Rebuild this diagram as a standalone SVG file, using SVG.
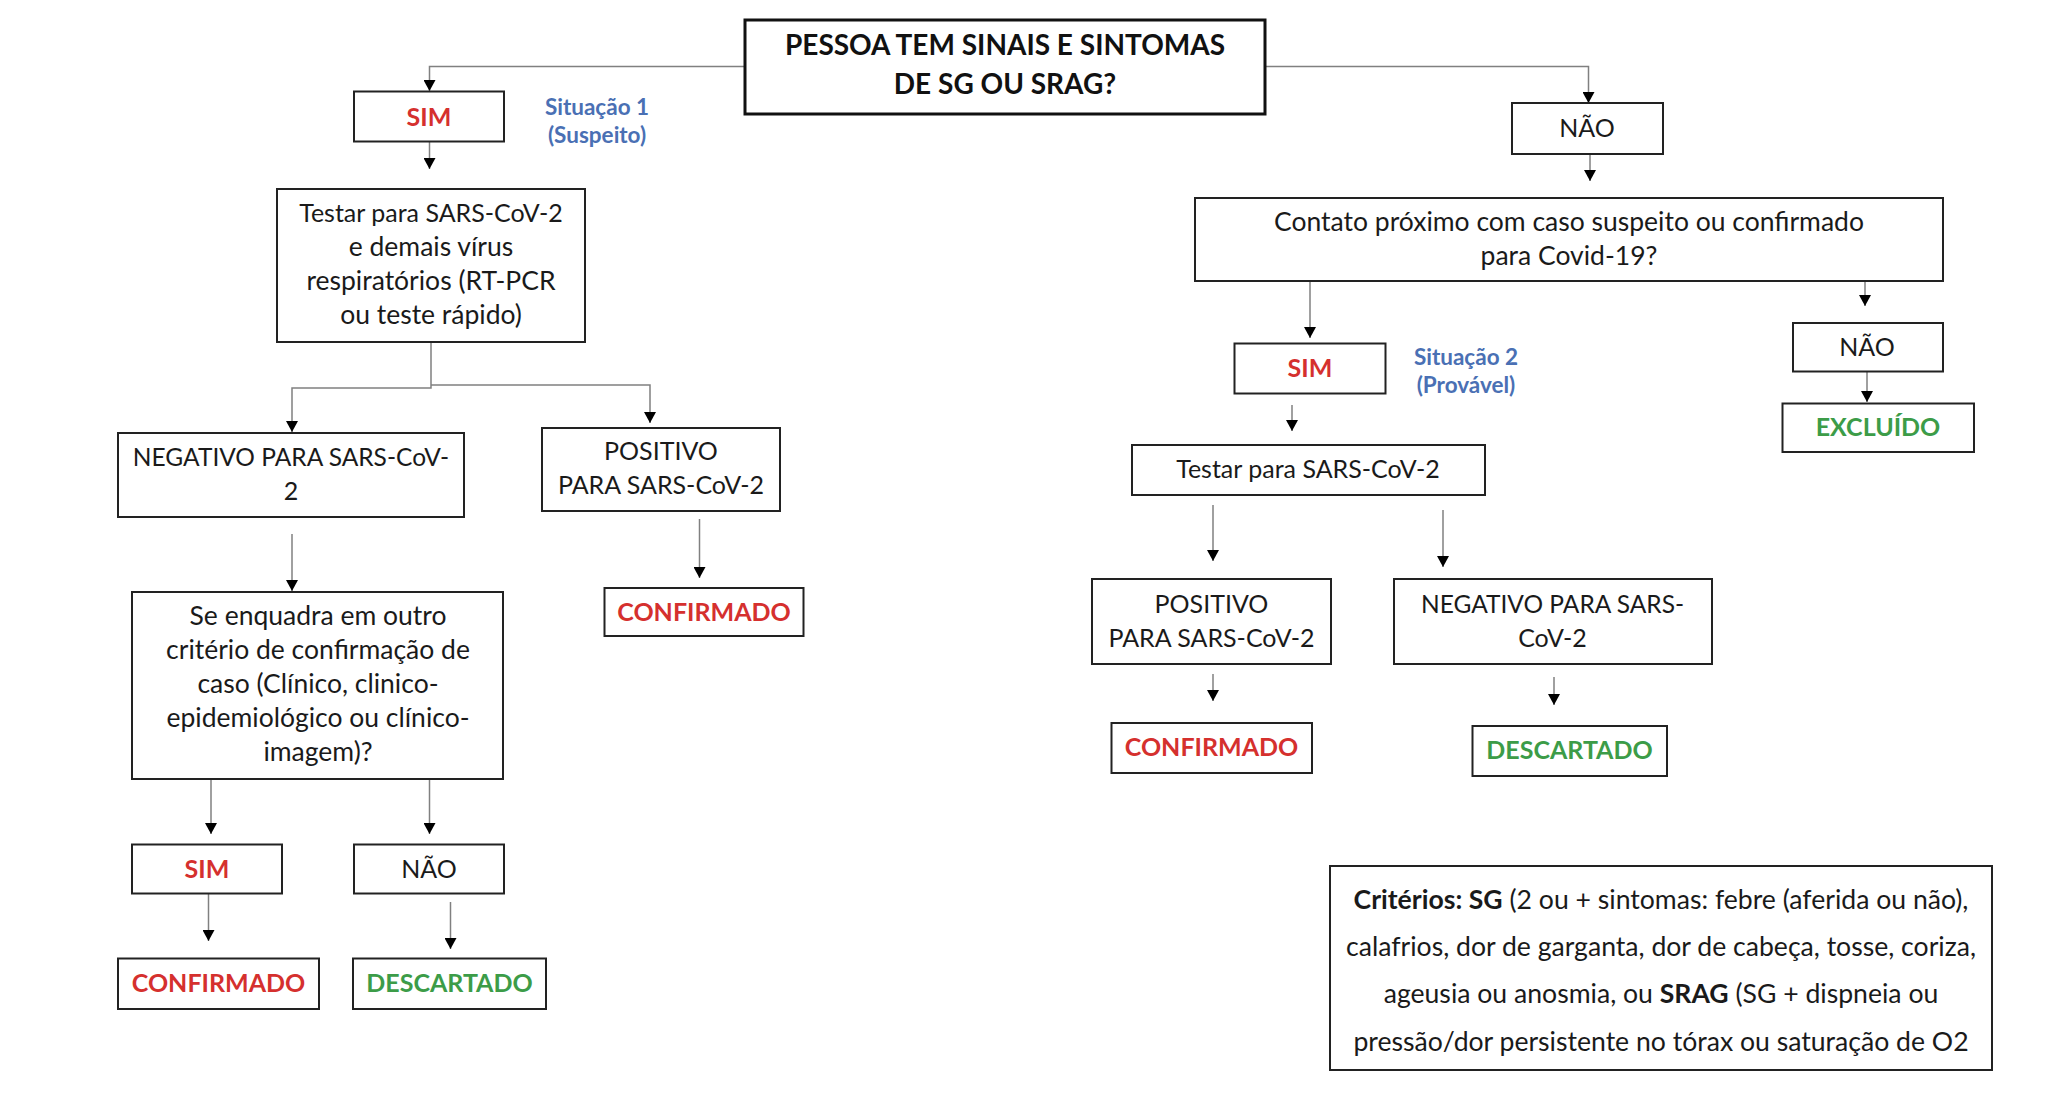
<svg xmlns="http://www.w3.org/2000/svg" width="2056" height="1116" viewBox="0 0 2056 1116">
<defs>
<style>
.box{fill:#fff;stroke:#222;stroke-width:2}
.tbox{fill:#fff;stroke:#111;stroke-width:3}
.t{font-family:Lato,"Liberation Sans",sans-serif;font-size:25px;fill:#1a1a1a;text-anchor:middle}
.l{font-size:26.5px}
.k{font-size:24.5px}
.b{font-weight:bold}
.red{fill:#d5302e}
.green{fill:#3c9c48}
.blue{font-family:Lato,"Liberation Sans",sans-serif;font-size:22.5px;font-weight:bold;fill:#4a70b4;text-anchor:middle}
.title{font-size:28px;font-weight:bold;fill:#111}
.crit{font-size:26.6px}
.c{fill:none;stroke:#808080;stroke-width:1.5;marker-end:url(#ah)}
</style>
<marker id="ah" markerUnits="userSpaceOnUse" markerWidth="11" markerHeight="12" refX="11" refY="6" orient="auto">
<path d="M0,0 L11,6 L0,12 z" fill="#000"/>
</marker>
</defs>
<rect width="2056" height="1116" fill="#fff"/>

<g id="connectors">
<path class="c" d="M745,66.5 H429.5 V91"/>
<path class="c" d="M1265,66.5 H1588.5 V103"/>
<path class="c" d="M429.5,141.5 V169"/>
<path class="c" d="M431,342 V388 H292 V432"/>
<path class="c" d="M431,385 H650 V423"/>
<path class="c" d="M292,534 V591"/>
<path class="c" d="M699.5,519 V578"/>
<path class="c" d="M211,779 V834"/>
<path class="c" d="M429.5,779 V834"/>
<path class="c" d="M208.5,894 V941"/>
<path class="c" d="M450.5,902 V949"/>
<path class="c" d="M1590,154 V181"/>
<path class="c" d="M1310,281 V338"/>
<path class="c" d="M1865,258 V306"/>
<path class="c" d="M1292,405 V431"/>
<path class="c" d="M1867,372 V402"/>
<path class="c" d="M1213,505 V561"/>
<path class="c" d="M1443,510 V567"/>
<path class="c" d="M1213,674 V701"/>
<path class="c" d="M1554,677 V705"/>
</g>

<g id="title">
<rect class="tbox" x="745" y="20" width="520" height="94"/>
<text class="t title" x="1005" y="55">PESSOA TEM SINAIS E SINTOMAS</text>
<text class="t title" x="1005" y="94">DE SG OU SRAG?</text>
</g>

<g id="sim1">
<rect class="box" x="354" y="91.5" width="150" height="50"/>
<text class="t b red" x="429" y="126">SIM</text>
</g>
<g id="situacao1">
<text class="blue" x="597" y="115">Situação 1</text>
<text class="blue" x="597" y="143">(Suspeito)</text>
</g>

<g id="testar1">
<rect class="box" x="277" y="189" width="308" height="153"/>
<text class="t" x="431" y="222">Testar para SARS-CoV-2</text>
<text class="t l" x="431" y="256">e demais vírus</text>
<text class="t l" x="431" y="290">respiratórios (RT-PCR</text>
<text class="t l" x="431" y="324">ou teste rápido)</text>
</g>

<g id="negativo1">
<rect class="box" x="118" y="433" width="346" height="84"/>
<text class="t k" x="291" y="466">NEGATIVO PARA SARS-CoV-</text>
<text class="t" x="291" y="500">2</text>
</g>

<g id="positivo1">
<rect class="box" x="542" y="428" width="238" height="83"/>
<text class="t" x="661" y="460">POSITIVO</text>
<text class="t" x="661" y="494">PARA SARS-CoV-2</text>
</g>

<g id="confirmado1">
<rect class="box" x="604.5" y="588" width="199" height="48"/>
<text class="t b red" x="704" y="621">CONFIRMADO</text>
</g>

<g id="criterio">
<rect class="box" x="132" y="592" width="371" height="187"/>
<text class="t l" x="318" y="625">Se enquadra em outro</text>
<text class="t l" x="318" y="659">critério de confirmação de</text>
<text class="t l" x="318" y="693">caso (Clínico, clinico-</text>
<text class="t l" x="318" y="727">epidemiológico ou clínico-</text>
<text class="t l" x="318" y="761">imagem)?</text>
</g>

<g id="sim2">
<rect class="box" x="132" y="844.5" width="150" height="49"/>
<text class="t b red" x="207" y="877.5">SIM</text>
</g>

<g id="nao2">
<rect class="box" x="354" y="844.5" width="150" height="49"/>
<text class="t" x="429" y="877.5">NÃO</text>
</g>

<g id="confirmado2">
<rect class="box" x="118" y="958.5" width="201" height="50.5"/>
<text class="t b red" x="218.5" y="991.5">CONFIRMADO</text>
</g>

<g id="descartado1">
<rect class="box" x="353" y="958.5" width="193" height="50.5"/>
<text class="t b green" x="449.5" y="991.5">DESCARTADO</text>
</g>

<g id="nao1">
<rect class="box" x="1512" y="103" width="151" height="51"/>
<text class="t" x="1587" y="137">NÃO</text>
</g>

<g id="contato">
<rect class="box" x="1195" y="198" width="748" height="83"/>
<text class="t l" x="1569" y="231">Contato próximo com caso suspeito ou confirmado</text>
<text class="t l" x="1569" y="265">para Covid-19?</text>
</g>

<g id="sim3">
<rect class="box" x="1234.5" y="343.5" width="151" height="50"/>
<text class="t b red" x="1310" y="377">SIM</text>
</g>
<g id="situacao2">
<text class="blue" x="1466" y="365">Situação 2</text>
<text class="blue" x="1466" y="393">(Provável)</text>
</g>

<g id="nao3">
<rect class="box" x="1793" y="323" width="150" height="48.5"/>
<text class="t" x="1867" y="356">NÃO</text>
</g>

<g id="excluido">
<rect class="box" x="1782.5" y="403.5" width="191.5" height="48.5"/>
<text class="t b green" x="1878" y="436">EXCLUÍDO</text>
</g>

<g id="testar2">
<rect class="box" x="1132" y="445" width="353" height="50"/>
<text class="t" x="1308" y="478">Testar para SARS-CoV-2</text>
</g>

<g id="positivo2">
<rect class="box" x="1092" y="579" width="239" height="85"/>
<text class="t" x="1211.5" y="613">POSITIVO</text>
<text class="t" x="1211.5" y="647">PARA SARS-CoV-2</text>
</g>

<g id="negativo2">
<rect class="box" x="1394" y="579" width="318" height="85"/>
<text class="t k" x="1552.5" y="613">NEGATIVO PARA SARS-</text>
<text class="t" x="1552.5" y="647">CoV-2</text>
</g>

<g id="confirmado3">
<rect class="box" x="1111.5" y="723" width="200.5" height="50"/>
<text class="t b red" x="1211.5" y="755.5">CONFIRMADO</text>
</g>

<g id="descartado2">
<rect class="box" x="1472.5" y="726" width="194.5" height="50"/>
<text class="t b green" x="1569.5" y="759">DESCARTADO</text>
</g>

<g id="criterios">
<rect class="box" x="1330" y="866" width="662" height="204"/>
<text class="t crit" x="1661" y="908.5"><tspan class="b">Critérios: SG</tspan> (2 ou + sintomas: febre (aferida ou não),</text>
<text class="t crit" x="1661" y="956">calafrios, dor de garganta, dor de cabeça, tosse, coriza,</text>
<text class="t crit" x="1661" y="1003">ageusia ou anosmia, ou <tspan class="b">SRAG</tspan> (SG + dispneia ou</text>
<text class="t crit" x="1661" y="1051">pressão/dor persistente no tórax ou saturação de O2</text>
</g>
</svg>
